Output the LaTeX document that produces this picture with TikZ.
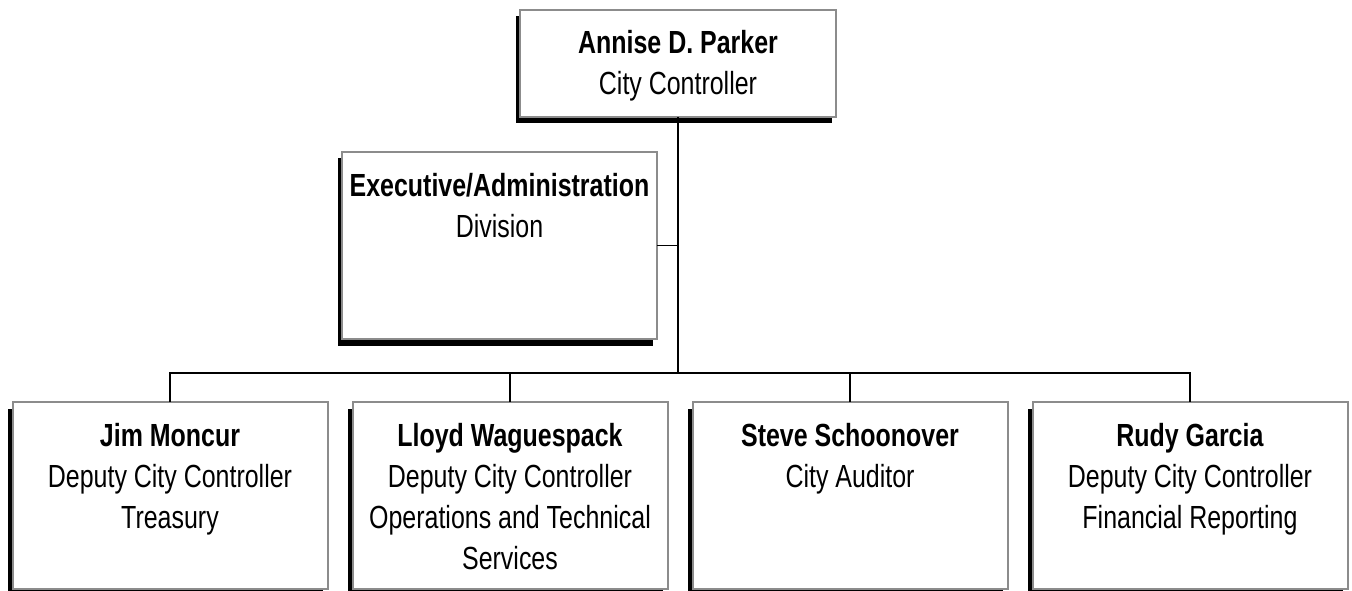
\documentclass[tikz,border=0pt]{standalone}
\usepackage{fontspec}
\setmainfont{Liberation Sans}[FakeStretch=0.78]
\usetikzlibrary{shadows}
\definecolor{boxgray}{RGB}{140,140,140}
\newcommand{\cbox}[3]{\begin{minipage}[t][#2][t]{#1}\centering\rule{0pt}{44pt}#3\end{minipage}}
\tikzset{
  orgbox/.style={draw=boxgray, line width=2pt, fill=white, inner sep=0pt, outer sep=0pt,
    font=\fontsize{32pt}{41pt}\selectfont,
    drop shadow={shadow xshift=-4.5pt, shadow yshift=-6.5pt, fill=black, opacity=1}},
  conn/.style={draw=black, line width=1.6pt}
}
\begin{document}
\begin{tikzpicture}[x=1pt,y=-1pt]
\useasboundingbox (0,0) rectangle (1352,591);
\clip (0,0) rectangle (1352,591);
\fill[white] (0,0) rectangle (1352,591);

\node[orgbox] (top) at (678,63.5) {\cbox{316pt}{107pt}{\textbf{Annise D. Parker}\\City Controller}};
\node[orgbox] (exec) at (499.5,245.5) {\cbox{315pt}{187pt}{\textbf{Executive/Administration}\\Division}};

\node[orgbox] (b1) at (170,495.5) {\cbox{315pt}{187pt}{\textbf{Jim Moncur}\\Deputy City Controller\\Treasury}};
\node[orgbox] (b2) at (510,495.5) {\cbox{315pt}{187pt}{\textbf{Lloyd Waguespack}\\Deputy City Controller\\Operations and Technical\\Services}};
\node[orgbox] (b3) at (850,495.5) {\cbox{315pt}{187pt}{\textbf{Steve Schoonover}\\City Auditor}};
\node[orgbox] (b4) at (1190,495.5) {\cbox{315pt}{187pt}{\textbf{Rudy Garcia}\\Deputy City Controller\\Financial Reporting}};

\coordinate (bus) at (678,373);

\draw[conn] (top.south) -- (top.south |- bus);
\draw[conn] (exec.east) -- (exec.east -| top.south);
\draw[conn] (b1.north) -- (b1.north |- bus) -- (b4.north |- bus) -- (b4.north);
\draw[conn] (b2.north) -- (b2.north |- bus);
\draw[conn] (b3.north) -- (b3.north |- bus);
\end{tikzpicture}
\end{document}
